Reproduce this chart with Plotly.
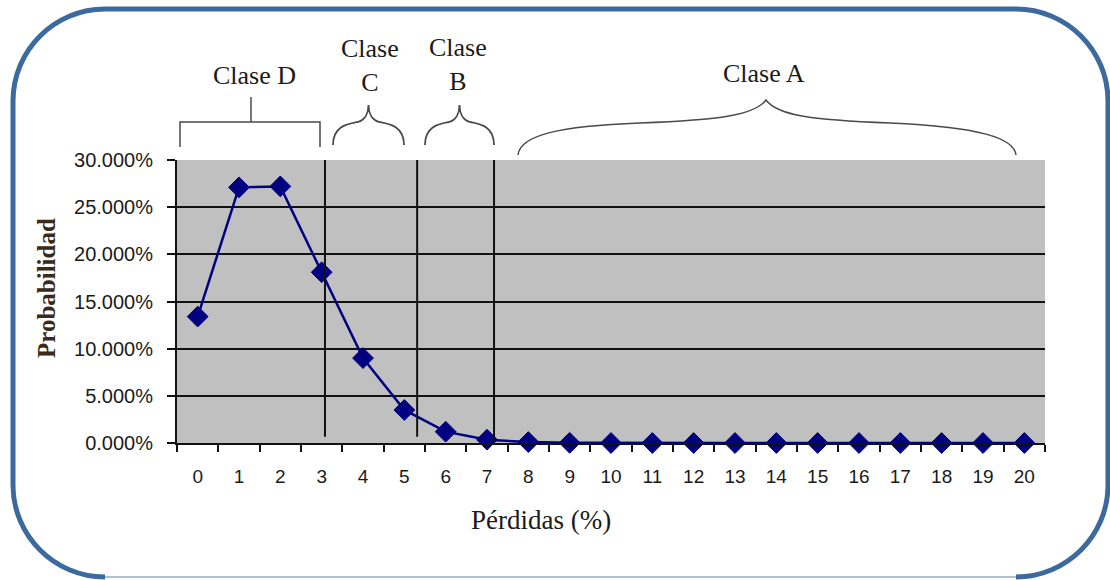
import plotly.graph_objects as go

# ---- data ----
perdidas = [str(i) for i in range(21)]
probabilidad = [0.134, 0.271, 0.272, 0.181, 0.090, 0.035, 0.012, 0.0035, 0.001, 0.0002,
                0.0, 0.0, 0.0, 0.0, 0.0, 0.0, 0.0, 0.0, 0.0, 0.0, 0.0]
y_ticks = [0, 0.05, 0.10, 0.15, 0.20, 0.25, 0.30]
clases = ["Clase D", "Clase<br>C", "Clase<br>B", "Clase A"]

W, H = 1110, 580
L, R, T, B = 177, 1045, 160, 443

def X(px):
    return (px - L) / (R - L)

def Y(py):
    return (B - py) / (B - T)

def path(cmds):
    out = []
    for c in cmds:
        if isinstance(c, str):
            out.append(c)
        else:
            out.append(f"{X(c[0]):.5f},{Y(c[1]):.5f}")
    return " ".join(out)

fig = go.Figure()
fig.add_trace(go.Scatter(
    x=perdidas, y=probabilidad, mode="lines+markers",
    line=dict(color="#000080", width=2.5),
    marker=dict(symbol="diamond", size=16, color="#000080",
                line=dict(color="#000080", width=1)),
    showlegend=False, cliponaxis=False,
))

shapes = []
# frame
fx0, fx1, fy0, fy1, r = 13, 1108, 9, 577, 92
k = 0.55 * r
frame = path(["M", (fx0 + r, fy1),
              "C", (fx0 + r - k, fy1), (fx0, fy1 - r + k), (fx0, fy1 - r),
              "L", (fx0, fy0 + r),
              "C", (fx0, fy0 + r - k), (fx0 + r - k, fy0), (fx0 + r, fy0),
              "L", (fx1 - r, fy0),
              "C", (fx1 - r + k, fy0), (fx1, fy0 + r - k), (fx1, fy0 + r),
              "L", (fx1, fy1 - r),
              "C", (fx1, fy1 - r + k), (fx1 - r + k, fy1), (fx1 - r, fy1)])
shapes.append(dict(type="path", xref="paper", yref="paper", path=frame,
                   line=dict(color="#3D6A9E", width=5), layer="above"))
shapes.append(dict(type="path", xref="paper", yref="paper",
                   path=path(["M", (fx0 + r, fy1), "L", (fx1 - r, fy1)]),
                   line=dict(color="#AFC0D3", width=2), layer="above"))

# vertical class separators (x positions on category index scale)
for xv, y0, y1 in [(3.08, 0.0065, 0.30), (5.31, 0.0065, 0.30), (7.17, 0.0, 0.3055)]:
    shapes.append(dict(type="line", xref="x", yref="y", x0=xv, x1=xv, y0=y0, y1=y1,
                       line=dict(color="#111111", width=2), layer="above"))

bcol = "#4a4a4a"
# Clase D bracket
shapes.append(dict(type="path", xref="paper", yref="paper",
                   path=path(["M", (180, 147), "L", (180, 122), "L", (320, 122), "L", (320, 147),
                              "M", (251, 122), "L", (251, 97)]),
                   line=dict(color=bcol, width=1.5)))

def brace(x0, x1, ytop, yend, ymid):
    xm = (x0 + x1) / 2
    w = x1 - x0
    return path(["M", (x0, yend),
                 "C", (x0, ymid + 2), (x0 + 0.2 * w, ymid), (xm - 0.15 * w, ymid - 2),
                 "C", (xm - 0.05 * w, ymid - 4), (xm, ytop + 8), (xm, ytop),
                 "C", (xm, ytop + 8), (xm + 0.05 * w, ymid - 4), (xm + 0.15 * w, ymid - 2),
                 "C", (x1 - 0.2 * w, ymid), (x1, ymid + 2), (x1, yend)])

shapes.append(dict(type="path", xref="paper", yref="paper",
                   path=brace(333, 404, 105, 145, 124), line=dict(color=bcol, width=1.8)))
shapes.append(dict(type="path", xref="paper", yref="paper",
                   path=brace(425, 494, 105, 145, 124), line=dict(color=bcol, width=1.8)))
# Clase A brace
braceA = path(["M", (518, 155),
               "C", (520, 135), (560, 126), (640, 123),
               "C", (720, 120), (755, 115), (766, 100),
               "C", (777, 115), (810, 120), (890, 123),
               "C", (980, 127), (1014, 138), (1016, 155)])
shapes.append(dict(type="path", xref="paper", yref="paper", path=braceA,
                   line=dict(color=bcol, width=1.5)))

serif = "Liberation Serif"
annots = []
for txt, px, py in [(clases[0], 254, 75), (clases[1], 370, 65), (clases[2], 458, 64), (clases[3], 764, 73)]:
    annots.append(dict(text=txt, xref="paper", yref="paper", x=X(px), y=Y(py),
                       showarrow=False, xanchor="center", yanchor="middle",
                       font=dict(family=serif, size=26, color="#1a1a1a")))
annots.append(dict(text="Pérdidas (%)", xref="paper", yref="paper", x=X(541), y=Y(520),
                   showarrow=False, xanchor="center", yanchor="middle",
                   font=dict(family=serif, size=27, color="#1a1a1a")))
annots.append(dict(text="<b>Probabilidad</b>", xref="paper", yref="paper", x=X(46), y=Y(288),
                   showarrow=False, textangle=-90, xanchor="center", yanchor="middle",
                   font=dict(family=serif, size=25, color="#3a2a1a")))

fig.update_layout(
    width=W, height=H,
    margin=dict(l=L, r=W - R, t=T, b=H - B),
    paper_bgcolor="white", plot_bgcolor="#C0C0C0",
    shapes=shapes, annotations=annots,
    xaxis=dict(type="category", tickson="boundaries", ticks="outside", ticklen=7,
               tickcolor="#111111", tickwidth=2, showgrid=False, showline=True,
               linecolor="#111111", linewidth=2, range=[-0.5, 20.5],
               ticklabelstandoff=15,
               tickfont=dict(family="Liberation Sans", size=19, color="#1a1a1a"),
               zeroline=False),
    yaxis=dict(range=[0, 0.30], tickvals=y_ticks, tickformat=".3%",
               ticks="outside", ticklen=8, tickcolor="#111111", tickwidth=2,
               showgrid=True, gridcolor="#111111", gridwidth=2,
               showline=True, linecolor="#111111", linewidth=2, zeroline=False,
               ticklabelstandoff=10,
               tickfont=dict(family="Liberation Sans", size=20, color="#1a1a1a")),
)

fig.write_html("out.html", config={"displayModeBar": False},
               post_script="document.body.style.margin='0px';document.body.style.padding='0px';")
